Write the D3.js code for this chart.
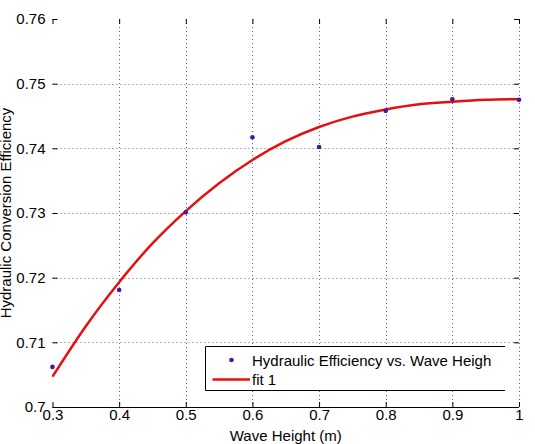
<!DOCTYPE html>
<html>
<head>
<meta charset="utf-8">
<script src="https://cdn.jsdelivr.net/npm/d3@7"></script>
<style>
  body { margin: 0; background: #fff; }
  svg { font-family: "Liberation Sans", Arial, sans-serif; }
</style>
</head>
<body>
<div id="chart"></div>
<script>
// measured points
var waveHeight = [0.3, 0.4, 0.5, 0.6, 0.7, 0.8, 0.9, 1.0];
var efficiency = [0.7062, 0.7181, 0.7301, 0.7417, 0.7402, 0.7458, 0.7476, 0.7475];

// fitted curve
var fitX = [0.30, 0.35, 0.40, 0.45, 0.50, 0.55, 0.60, 0.65, 0.70, 0.75, 0.80, 0.85, 0.90, 0.95, 1.00];
var fitY = [0.7047, 0.7125, 0.7193, 0.7253, 0.7303, 0.7346, 0.7382, 0.7411, 0.7433, 0.7449, 0.7460, 0.7468, 0.7472, 0.7475, 0.7476];

var xTicks = [0.3, 0.4, 0.5, 0.6, 0.7, 0.8, 0.9, 1.0];
var yTicks = [0.70, 0.71, 0.72, 0.73, 0.74, 0.75, 0.76];

var width = 535, height = 444;
// plot box (window.top is read-only, so use other names)
var pLeft = 52.5, pRight = 519, pTop = 19, pBottom = 407;

var svg = d3.select("#chart").append("svg").attr("width", width).attr("height", height);

var x = d3.scaleLinear().domain([0.3, 1.0]).range([pLeft, pRight]);
var y = d3.scaleLinear().domain([0.70, 0.76]).range([pBottom, pTop]);

// dotted grid
var grid = svg.append("g").attr("stroke", "#666").attr("stroke-width", 1).attr("stroke-dasharray", "1,3");
grid.selectAll("line.vx").data(xTicks.slice(1)).enter().append("line")
  .attr("x1", function (d) { return Math.round(x(d)) + 0.5; })
  .attr("x2", function (d) { return Math.round(x(d)) + 0.5; })
  .attr("y1", pTop).attr("y2", pBottom);
grid.selectAll("line.hy").data(yTicks.slice(1, -1)).enter().append("line")
  .attr("y1", function (d) { return Math.round(y(d)) + 0.5; })
  .attr("y2", function (d) { return Math.round(y(d)) + 0.5; })
  .attr("x1", pLeft).attr("x2", pRight);

// axes, inward ticks
var fmt = function (d) { return d3.format("~g")(d); };
var xAxis = d3.axisBottom(x).tickValues(xTicks).tickSize(-5).tickPadding(2).tickFormat(fmt);
var gx = svg.append("g").attr("transform", "translate(0," + pBottom + ")").call(xAxis);
gx.select(".domain").attr("stroke", "#000").attr("d", "M" + pLeft + ",0.5H" + pRight);
gx.selectAll("text").attr("font-size", "15px").attr("fill", "#000").attr("font-family", "Liberation Sans, Arial, sans-serif");

var yAxis = d3.axisLeft(y).tickValues(yTicks).tickSize(-5).tickPadding(7).tickFormat(fmt);
var gy = svg.append("g").attr("transform", "translate(" + pLeft + ",0)").call(yAxis);
gy.select(".domain").remove();
gy.selectAll("text").attr("font-size", "15px").attr("fill", "#000").attr("font-family", "Liberation Sans, Arial, sans-serif");

// top and right ticks
svg.append("g").attr("transform", "translate(0," + pTop + ")")
  .call(d3.axisTop(x).tickValues(xTicks).tickSize(-5).tickFormat(""))
  .select(".domain").remove();
svg.append("g").attr("transform", "translate(" + pRight + ",0)")
  .call(d3.axisRight(y).tickValues(yTicks).tickSize(-5).tickFormat(""))
  .select(".domain").remove();

// fit line
var fitData = fitX.map(function (d, i) { return [d, fitY[i]]; });
var line = d3.line().x(function (d) { return x(d[0]); }).y(function (d) { return y(d[1]); }).curve(d3.curveMonotoneX);
svg.append("path").datum(fitData).attr("d", line)
  .attr("fill", "none").attr("stroke", "#e41010").attr("stroke-width", 2.5);

// measured points
svg.selectAll("circle.pt").data(waveHeight).enter().append("circle")
  .attr("cx", function (d) { return x(d); })
  .attr("cy", function (d, i) { return y(efficiency[i]); })
  .attr("r", 2.3).attr("fill", "#4a1599");

// axis labels
svg.append("text").text("Wave Height (m)")
  .attr("x", (pLeft + pRight) / 2).attr("y", 441).attr("text-anchor", "middle").attr("font-size", "15px");
svg.append("text").text("Hydraulic Conversion Efficiency")
  .attr("transform", "translate(11," + (pTop + pBottom) / 2 + ") rotate(-90)")
  .attr("text-anchor", "middle").attr("font-size", "15px");

// legend
var lg = svg.append("g");
lg.append("rect").attr("x", 205.5).attr("y", 346.5).attr("width", 300).attr("height", 44).attr("fill", "#fff");
lg.append("path").attr("d", "M505,346.5H205.5V390.5H505").attr("fill", "none").attr("stroke", "#000");
lg.append("circle").attr("cx", 231.5).attr("cy", 360).attr("r", 2.3).attr("fill", "#4a1599");
lg.append("text").text("Hydraulic Efficiency vs. Wave Heigh").attr("x", 252).attr("y", 365.5).attr("font-size", "15px");
lg.append("line").attr("x1", 212.5).attr("x2", 250).attr("y1", 379.5).attr("y2", 379.5)
  .attr("stroke", "#e41010").attr("stroke-width", 2.5);
lg.append("text").text("fit 1").attr("x", 252).attr("y", 384.5).attr("font-size", "15px");
</script>
</body>
</html>
